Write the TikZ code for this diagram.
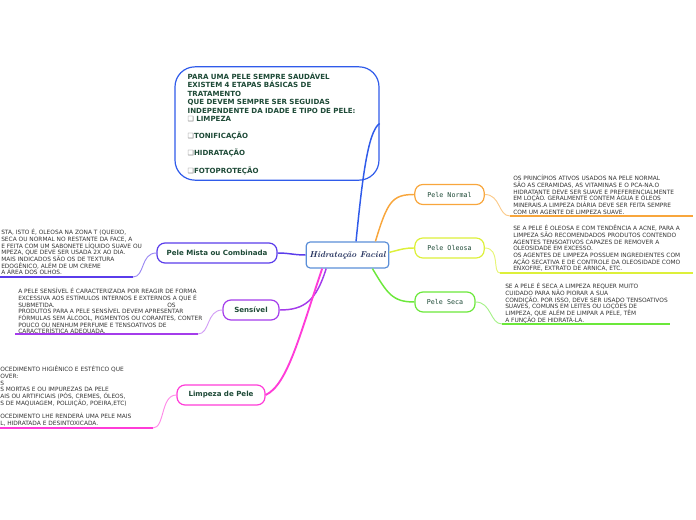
\documentclass[tikz,border=0pt]{standalone}
\usepackage{fontspec}
\setsansfont{DejaVu Sans}
\setmonofont{DejaVu Sans Mono}
\usepackage{tikz}
\usepackage{xcolor}
\definecolor{labelgreen}{HTML}{1E4A37}
\definecolor{notegray}{HTML}{333333}
\definecolor{hubnavy}{HTML}{1C2A58}
\definecolor{hubblue}{HTML}{5B8FD8}
\definecolor{topblue}{HTML}{2F5BEA}
\definecolor{normalorange}{HTML}{F8A63C}
\definecolor{oleosayellow}{HTML}{DDF03A}
\definecolor{secagreen}{HTML}{6BE83A}
\definecolor{mistaviolet}{HTML}{5A3CEB}
\definecolor{sensivelpurple}{HTML}{A43CEB}
\definecolor{limpezapink}{HTML}{FF3CD8}

\tikzset{
  topic/.style={draw, rounded corners=6pt, line width=0.9pt, minimum height=15pt, inner sep=0pt, fill=white, text=labelgreen, font=\sffamily\bfseries\fontsize{5.3}{6}\selectfont},
  subtopic/.style={draw, rounded corners=6pt, line width=0.9pt, minimum height=15pt, inner sep=0pt, fill=white, text=labelgreen, font=\ttfamily\fontsize{5}{6}\selectfont},
  note/.style={anchor=north west, align=left, inner sep=0pt, text=notegray, font=\sffamily\fontsize{4.4}{5}\selectfont},
  branch/.style={line width=1.1pt},
  twig/.style={line width=0.7pt},
  underline/.style={line width=1.1pt}
}

\begin{document}
\begin{tikzpicture}[x=0.75pt,y=-0.75pt]
\useasboundingbox (0,0) rectangle (696,520);
\clip (0,0) rectangle (696,520);

% centre and intro
\node[draw=hubblue, line width=0.9pt, rounded corners=3pt, minimum width=62pt, minimum height=19.5pt, inner sep=0pt, fill=white, text=hubnavy, font=\bfseries\itshape\fontsize{6.4}{8}\selectfont] (hub) at (347.5,255) {Hidratação Facial};
\node[draw=topblue, line width=0.9pt, rounded corners=15pt, minimum width=153pt, minimum height=85pt, text width=134pt, align=left, inner sep=0pt, text=labelgreen, font=\sffamily\bfseries\fontsize{5.3}{6.4}\selectfont] (intro) at (277,123.5)
  {PARA UMA PELE SEMPRE SAUDÁVEL\\
   EXISTEM 4 ETAPAS BÁSICAS DE\\
   TRATAMENTO\\
   QUE DEVEM SEMPRE SER SEGUIDAS\\
   INDEPENDENTE DA IDADE E TIPO DE PELE:\\
   {\color{gray}❑} LIMPEZA\\[6.4pt]
   {\color{gray}❑}TONIFICAÇÃO\\[6.4pt]
   {\color{gray}❑}HIDRATAÇÃO\\[6.4pt]
   {\color{gray}❑}FOTOPROTEÇÃO};

% right side
\node[subtopic, draw=normalorange, minimum width=52pt] (normal) at (449.5,194.5) {Pele Normal};
\node[subtopic, draw=oleosayellow, minimum width=52pt] (oleosa) at (449.5,248) {Pele Oleosa};
\node[subtopic, draw=secagreen, minimum width=45pt] (seca) at (445,302) {Pele Seca};

% left side
\node[topic, draw=mistaviolet, minimum width=90pt] (mista) at (217,253) {Pele Mista ou Combinada};
\node[topic, draw=sensivelpurple, minimum width=42pt] (sensivel) at (251,310) {Sensível};
\node[topic, draw=limpezapink, minimum width=66pt] (limpeza) at (221,395) {Limpeza de Pele};

% notes
\node[note] (normaltxt) at (513,175)
  {OS PRINCÍPIOS ATIVOS USADOS NA PELE NORMAL\\
   SÃO AS CERAMIDAS, AS VITAMINAS E O PCA-NA.O\\
   HIDRATANTE DEVE SER SUAVE E PREFERENCIALMENTE\\
   EM LOÇÃO. GERALMENTE CONTEM ÁGUA E ÓLEOS\\
   MINERAIS.A LIMPEZA DIÁRIA DEVE SER FEITA SEMPRE\\
   COM UM AGENTE DE LIMPEZA SUAVE.};
\node[note] (oleosatxt) at (513,225)
  {SE A PELE É OLEOSA E COM TENDÊNCIA A ACNE, PARA A\\
   LIMPEZA SÃO RECOMENDADOS PRODUTOS CONTENDO\\
   AGENTES TENSOATIVOS CAPAZES DE REMOVER A\\
   OLEOSIDADE EM EXCESSO.\\
   OS AGENTES DE LIMPEZA POSSUEM INGREDIENTES COM\\
   AÇÃO SECATIVA E DE CONTROLE DA OLEOSIDADE COMO\\
   ENXOFRE, EXTRATO DE ARNICA, ETC.};
\node[note] (secatxt) at (505,283)
  {SE A PELE É SECA A LIMPEZA REQUER MUITO\\
   CUIDADO PARA NÃO PIORAR A SUA\\
   CONDIÇÃO. POR ISSO, DEVE SER USADO TENSOATIVOS\\
   SUAVES, COMUNS EM LEITES OU LOÇÕES DE\\
   LIMPEZA, QUE ALÉM DE LIMPAR A PELE, TÊM\\
   A FUNÇÃO DE HIDRATÁ-LA.};
\node[note] (mistatxt) at (1,229)
  {STA, ISTO É, OLEOSA NA ZONA T (QUEIXO,\\
   SECA OU NORMAL NO RESTANTE DA FACE, A\\
   E FEITA COM UM SABONETE LÍQUIDO SUAVE OU\\
   MPEZA, QUE DEVE SER USADA 2X AO DIA.\\
   MAIS INDICADOS SÃO OS DE TEXTURA\\
   EDOGÊNICO, ALÉM DE UM CREME\\
   A ÁREA DOS OLHOS.};
\node[note] (sensiveltxt) at (18,288)
  {A PELE SENSÍVEL É CARACTERIZADA POR REAGIR DE FORMA\\
   EXCESSIVA AOS ESTÍMULOS INTERNOS E EXTERNOS A QUE É\\
   \makebox[118pt][l]{SUBMETIDA.\hfill OS}\\
   PRODUTOS PARA A PELE SENSÍVEL DEVEM APRESENTAR\\
   FÓRMULAS SEM ÁLCOOL, PIGMENTOS OU CORANTES, CONTER\\
   POUCO OU NENHUM PERFUME E TENSOATIVOS DE\\
   CARACTERÍSTICA ADEQUADA.};
\node[note] (limpezatxt) at (0,366)
  {OCEDIMENTO HIGIÊNICO E ESTÉTICO QUE\\
   OVER:\\
   S\\
   S MORTAS E OU IMPUREZAS DA PELE\\
   AIS OU ARTIFICIAIS (PÓS, CREMES, ÓLEOS,\\
   S DE MAQUIAGEM, POLUIÇÃO, POEIRA,ETC)\\[5pt]
   OCEDIMENTO LHE RENDERÁ UMA PELE MAIS\\
   L, HIDRATADA E DESINTOXICADA.};

% ends of the underlines
\coordinate (normalU) at (510,216);   \coordinate (normalE) at (693,216);
\coordinate (oleosaU) at (500,273);   \coordinate (oleosaE) at (693,273);
\coordinate (secaU) at (502,324);     \coordinate (secaE) at (670,324);
\coordinate (mistaU) at (133,277);    \coordinate (mistaE) at (0,277);
\coordinate (sensivelU) at (198,334); \coordinate (sensivelE) at (15,334);
\coordinate (limpezaU) at (153,428);  \coordinate (limpezaE) at (0,428);

% branches from the centre
\draw[branch, topblue] ([xshift=6.4pt]hub.north) .. controls +(6,-60) and +(-12,8) .. (intro.east);
\draw[branch, normalorange] ([xshift=-10.5pt]hub.north east) .. controls +(12,-40) and +(-22,0) .. (normal.west);
\draw[branch, oleosayellow] ([yshift=2pt]hub.east) .. controls +(12,-3) and +(-10,0) .. (oleosa.west);
\draw[branch, secagreen] ([xshift=-12.75pt]hub.south east) .. controls +(15,25) and +(-22,0) .. (seca.west);
\draw[branch, mistaviolet] (hub.west) .. controls +(-12,0) and +(12,0) .. (mista.east);
\draw[branch, sensivelpurple] ([xshift=-16pt]hub.south) .. controls +(-10,32) and +(25,0) .. (sensivel.east);
\draw[branch, limpezapink, line width=1.4pt] ([xshift=-19pt]hub.south) .. controls +(-22,65) and +(22,-10) .. (limpeza.east);

% twigs to the notes
\draw[twig, normalorange!60] (normal.east) .. controls +(16,0) and +(-12,0) .. (normalU);
\draw[underline, normalorange] (normalU) -- (normalE);
\draw[twig, oleosayellow!70] (oleosa.east) .. controls +(16,0) and +(-8,0) .. (oleosaU);
\draw[underline, oleosayellow] (oleosaU) -- (oleosaE);
\draw[twig, secagreen!60] (seca.east) .. controls +(16,0) and +(-12,0) .. (secaU);
\draw[underline, secagreen] (secaU) -- (secaE);
\draw[twig, mistaviolet!60] (mista.west) .. controls +(-16,0) and +(12,0) .. (mistaU);
\draw[underline, mistaviolet] (mistaU) -- (mistaE);
\draw[twig, sensivelpurple!50] (sensivel.west) .. controls +(-16,0) and +(12,0) .. (sensivelU);
\draw[underline, sensivelpurple] (sensivelU) -- (sensivelE);
\draw[twig, limpezapink!60] (limpeza.west) .. controls +(-16,0) and +(12,0) .. (limpezaU);
\draw[underline, limpezapink] (limpezaU) -- (limpezaE);
\end{tikzpicture}
\end{document}
